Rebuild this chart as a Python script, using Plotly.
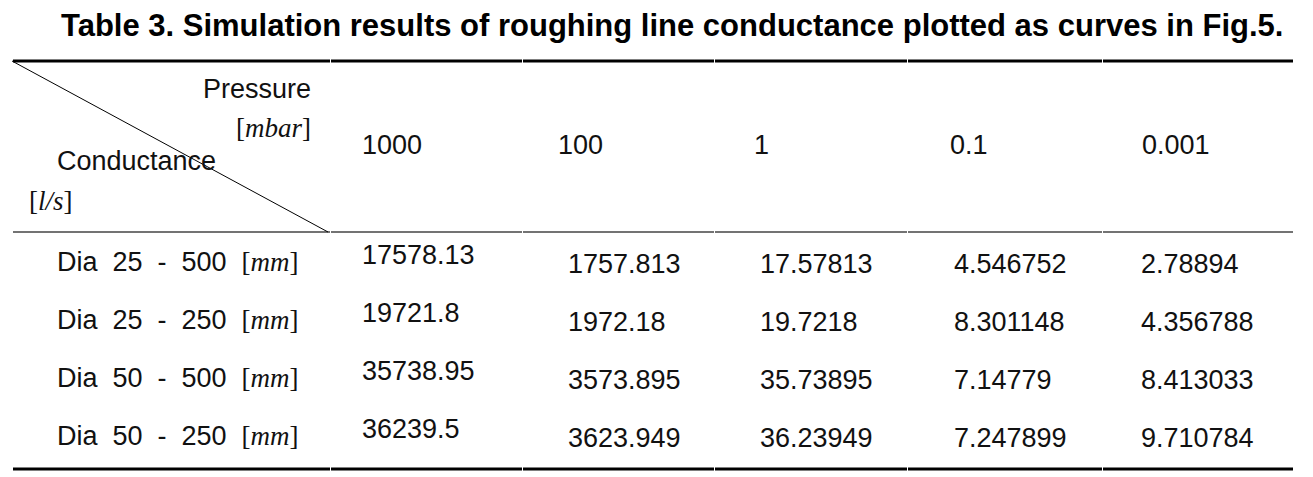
import plotly.graph_objects as go

# ---- data ----
title = "Table 3. Simulation results of roughing line conductance plotted as curves in Fig.5."
pressures = ["1000", "100", "1", "0.1", "0.001"]
row_dia = ["25", "25", "50", "50"]
row_len = ["500", "250", "500", "250"]
col_1000 = ["17578.13", "19721.8", "35738.95", "36239.5"]
col_100 = ["1757.813", "1972.18", "3573.895", "3623.949"]
col_1 = ["17.57813", "19.7218", "35.73895", "36.23949"]
col_01 = ["4.546752", "8.301148", "7.14779", "7.247899"]
col_0001 = ["2.78894", "4.356788", "8.413033", "9.710784"]
columns = [col_1000, col_100, col_1, col_01, col_0001]

# ---- layout geometry (pixels) ----
W, H = 1313, 477
col_edges = [12, 330, 522, 714, 907, 1102, 1293]
head_x = [360, 556, 752, 948, 1140]
val_x = [360, 566, 758, 952, 1139]
y_top, y_head, y_bot = 61, 232, 469
head_num_y = 145
row_y = [262, 320, 378, 436]
first_col_dy = -7
other_col_dy = 2

SANS = "Liberation Sans, Arial, sans-serif"
SERIF = "Liberation Serif, Times New Roman, serif"
FS = 27
sp = "\u00a0\u00a0"

fig = go.Figure()
fig.add_trace(go.Scatter(x=[0, W], y=[0, H], mode="markers",
                         marker=dict(opacity=0), hoverinfo="skip", showlegend=False))

ann = []
shapes = []

def txt(x, y, s, anchor="left", size=FS, family=SANS, color="#111"):
    ann.append(dict(x=x, y=y, xref="x", yref="y", text=s, showarrow=False,
                    xanchor=anchor, yanchor="middle",
                    font=dict(family=family, size=size, color=color)))

def math(s):
    return f"<span style='font-family:{SERIF}'>[<i>{s}</i>]</span>"

# title
txt(672, 25, f"<b>{title}</b>", anchor="center", size=31, color="#000")

# header corner cell
txt(313, 89, "Pressure", anchor="right")
txt(313, 128, math("mbar"), anchor="right", family=SERIF)
txt(55, 161, "Conductance")
txt(27, 201, math("l/s"), family=SERIF)

# header pressures
for x, p in zip(head_x, pressures):
    txt(x, head_num_y, p)

# body rows
for i, y in enumerate(row_y):
    label = f"Dia{sp}{row_dia[i]}{sp}-{sp}{row_len[i]}{sp}" + math("mm")
    txt(55, y, label)
    for j, col in enumerate(columns):
        dy = first_col_dy if j == 0 else other_col_dy
        txt(val_x[j], y + dy, col[i])

# rules (segmented at column boundaries)
def hrule(y, width, color):
    for a, b in zip(col_edges[:-1], col_edges[1:]):
        shapes.append(dict(type="line", xref="x", yref="y", x0=a + 1, x1=b,
                           y0=y, y1=y, line=dict(color=color, width=width)))

hrule(y_top, 3.2, "#000")
hrule(y_head, 1.6, "#444")
hrule(y_bot, 3.2, "#000")
shapes.append(dict(type="line", xref="x", yref="y", x0=col_edges[0], y0=y_top,
                   x1=col_edges[1] - 2, y1=y_head, line=dict(color="#000", width=1)))

fig.update_layout(
    width=W, height=H, margin=dict(l=0, r=0, t=0, b=0),
    paper_bgcolor="white", plot_bgcolor="white",
    xaxis=dict(range=[0, W], visible=False, fixedrange=True),
    yaxis=dict(range=[H, 0], visible=False, fixedrange=True),
    annotations=ann, shapes=shapes, showlegend=False,
)
fig.write_html("out.html", config={"displayModeBar": False},
               post_script="document.body.style.margin='0';document.body.style.overflow='hidden';")
